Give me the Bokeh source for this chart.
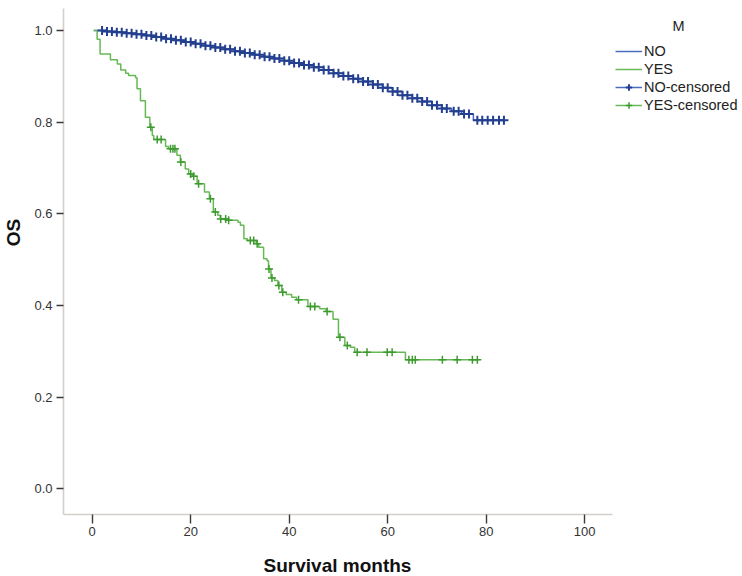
import numpy as np
from bokeh.plotting import figure
from bokeh.models import Range1d, FixedTicker, Legend, LegendItem, Label
from bokeh.embed import file_html
from bokeh.resources import INLINE

# ---------------- data ----------------
group_names = ["NO", "YES"]

# NO group: step times (months) and survival after each step
no_times = [0.3, 3, 5, 7, 9, 11, 13, 15, 17, 19, 21, 23, 25, 27, 29, 31, 33, 35,
            37, 39, 41, 43, 45, 47, 49, 51, 53, 55, 57, 59, 61, 63, 65, 67, 69,
            71, 73, 75, 77.4]
no_surv = [1.000, 0.998, 0.996, 0.994, 0.992, 0.989, 0.986, 0.982, 0.979, 0.975,
           0.971, 0.967, 0.963, 0.959, 0.955, 0.951, 0.947, 0.943, 0.939, 0.934,
           0.929, 0.925, 0.920, 0.914, 0.907, 0.901, 0.895, 0.889, 0.882, 0.875,
           0.867, 0.859, 0.852, 0.845, 0.837, 0.830, 0.824, 0.818, 0.804]
no_end = 83.8
no_censor_times = [2, 3, 4, 5, 6, 7, 8, 9, 10, 11, 12, 13, 14, 15, 16, 17, 18, 19,
                   20, 21, 22, 23, 24, 25, 26, 27, 28, 29, 30, 31, 32, 33, 34, 35,
                   36, 37, 38, 39, 40, 41, 42, 43, 44, 45, 46, 47, 48, 49, 50, 51,
                   52, 53, 54, 55, 56, 57, 58, 59, 60, 61, 62, 63, 64, 65, 66, 67,
                   68, 69, 70, 71, 72, 73.4, 74.4, 75.5, 76.5, 78.2, 79.2, 80.3,
                   81.4, 82.6, 83.6]

# YES group
yes_times = [0.3, 1.0, 1.6, 3.7, 5.1, 5.8, 6.8, 7.4, 8.8, 9.1, 9.8, 10.8, 11.7,
             12.2, 12.5, 14.9, 15.5, 17.2, 17.9, 18.9, 19.6, 20.4, 21.3, 22.8,
             23.8, 24.6, 25.5, 26.0, 27.5, 29.6, 30.1, 30.8, 31.5, 33.3, 33.8,
             34.8, 35.5, 35.8, 36.3, 37.0, 37.7, 38.5, 39.4, 40.5, 41.5, 43.8,
             46.2, 47.5, 48.9, 50.0, 51.3, 52.4, 53.3, 63.6]
yes_surv = [1.000, 0.981, 0.949, 0.936, 0.927, 0.914, 0.907, 0.902, 0.897, 0.873,
            0.847, 0.811, 0.789, 0.771, 0.762, 0.747, 0.742, 0.728, 0.713, 0.698,
            0.687, 0.682, 0.666, 0.648, 0.633, 0.604, 0.597, 0.589, 0.586, 0.582,
            0.575, 0.546, 0.542, 0.535, 0.527, 0.502, 0.498, 0.480, 0.460, 0.455,
            0.444, 0.429, 0.424, 0.418, 0.413, 0.398, 0.393, 0.387, 0.370, 0.331,
            0.313, 0.309, 0.298, 0.282]
yes_end = 78.6
yes_censor_times = [11.9, 13.2, 14.0, 15.9, 16.4, 16.8, 18.0, 20.0, 20.6, 21.6,
                    24.0, 25.0, 26.1, 27.1, 27.7, 32.1, 32.8, 33.5, 35.9, 36.5,
                    37.9, 38.7, 41.9, 44.3, 45.2, 47.7, 50.3, 51.8, 53.8, 55.8,
                    59.9, 60.9, 64.3, 65.0, 65.6, 71.1, 74.1, 77.2, 78.2]

x_ticks = [0, 20, 40, 60, 80, 100]
y_ticks = [0.0, 0.2, 0.4, 0.6, 0.8, 1.0]
y_tick_labels = ["0.0", "0.2", "0.4", "0.6", "0.8", "1.0"]

legend_title = "M"
x_title = "Survival months"
y_title = "OS"

# visible axis extents (data units)
x_axis_bounds = (-5.83, 105.58)
y_axis_bounds = (-0.0556, 1.048)

# ---------------- helpers ----------------
def step_xy(times, surv, end):
    return list(times) + [end], list(surv) + [surv[-1]]

def surv_at(times, surv, ts):
    idx = np.searchsorted(np.asarray(times), np.asarray(ts), side="right") - 1
    return [surv[i] for i in idx]

NO_LINE = "#4a6cc0"
NO_MARK = "#233f8f"
YES_LINE = "#66b955"
YES_MARK = "#3d9a2f"
FONT = "Liberation Sans"

W, H = 742, 574
# the plotting frame fills the whole figure; axes are drawn at fixed locations
p = figure(width=W, height=H, output_backend="svg", toolbar_location=None,
           x_range=Range1d(-18.62, 132.04), y_range=Range1d(-0.18648, 1.06543))
p.min_border = 0
p.min_border_left = 0
p.min_border_right = 0
p.min_border_top = 0
p.min_border_bottom = 0
p.outline_line_color = None
p.grid.visible = False
p.background_fill_color = "white"
p.border_fill_color = "white"

for ax in (p.xaxis[0], p.yaxis[0]):
    ax.axis_line_color = "#d3cfca"
    ax.axis_line_width = 1.6
    ax.major_tick_line_color = "#3a3a3a"
    ax.major_tick_line_width = 1.4
    ax.major_tick_in = 0
    ax.minor_tick_line_color = None
    ax.major_label_text_font = FONT
    ax.major_label_text_font_size = "13px"
    ax.major_label_text_color = "#333333"
    ax.major_label_standoff = 4

p.xaxis.ticker = FixedTicker(ticks=x_ticks)
p.xaxis.major_tick_out = 9
p.xaxis.bounds = x_axis_bounds
p.xaxis.fixed_location = y_axis_bounds[0]

p.yaxis.ticker = FixedTicker(ticks=y_ticks)
p.yaxis.major_label_overrides = {t: l for t, l in zip(y_ticks, y_tick_labels)}
p.yaxis.major_tick_out = 7
p.yaxis.bounds = y_axis_bounds
p.yaxis.fixed_location = x_axis_bounds[0]

# curves
nx, ny = step_xy(no_times, no_surv, no_end)
yx, yy = step_xy(yes_times, yes_surv, yes_end)
r_no = p.step(nx, ny, mode="after", line_color=NO_LINE, line_width=1.5)
r_yes = p.step(yx, yy, mode="after", line_color=YES_LINE, line_width=1.5)

r_yes_c = p.scatter(yes_censor_times, surv_at(yes_times, yes_surv, yes_censor_times),
                    marker="cross", size=8, line_color=YES_MARK, line_width=1.5)
r_no_c = p.scatter(no_censor_times, surv_at(no_times, no_surv, no_censor_times),
                   marker="cross", size=9, line_color=NO_MARK, line_width=2)

legend = Legend(items=[
    LegendItem(label=group_names[0], renderers=[r_no]),
    LegendItem(label=group_names[1], renderers=[r_yes]),
    LegendItem(label=group_names[0] + "-censored", renderers=[r_no, r_no_c]),
    LegendItem(label=group_names[1] + "-censored", renderers=[r_yes, r_yes_c]),
], location=(615, H - 113), orientation="vertical")
legend.padding = 0
legend.margin = 0
legend.border_line_color = None
legend.background_fill_alpha = 0
legend.glyph_width = 27
legend.glyph_height = 16
legend.label_height = 16
legend.spacing = 2
legend.label_standoff = 2
legend.label_text_font = FONT
legend.label_text_font_size = "14.5px"
legend.label_text_color = "#222222"
p.add_layout(legend)

# titles as screen-positioned labels (frame == whole figure)
p.add_layout(Label(x=678, y=H - 25, x_units="screen", y_units="screen",
                   text=legend_title, text_font=FONT, text_font_size="14.5px",
                   text_color="#222222", text_align="center", text_baseline="middle"))
p.add_layout(Label(x=12.5, y=H - 232, x_units="screen", y_units="screen",
                   text=y_title, angle=np.pi / 2, text_font=FONT,
                   text_font_size="19px", text_font_style="bold", text_color="#111111",
                   text_align="center", text_baseline="middle"))
p.add_layout(Label(x=337, y=H - 564.5, x_units="screen", y_units="screen",
                   text=x_title, text_font=FONT, text_font_size="19px",
                   text_font_style="bold", text_color="#111111",
                   text_align="center", text_baseline="middle"))

open("out.html", "w").write(file_html(p, INLINE))
